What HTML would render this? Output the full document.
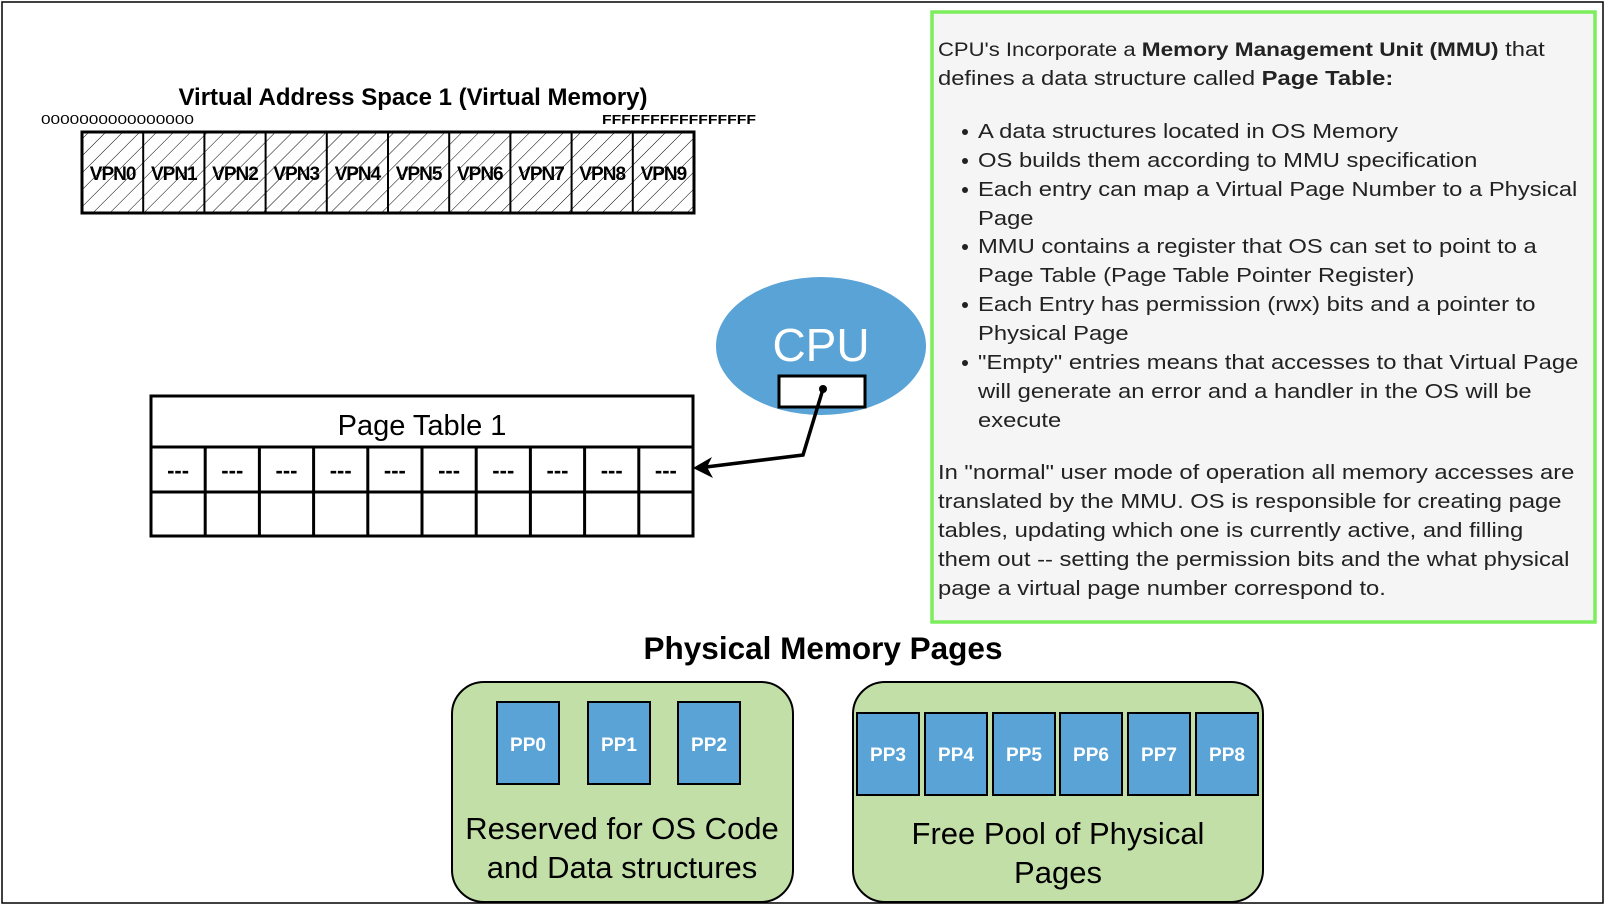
<!DOCTYPE html>
<html><head><meta charset="utf-8"><style>
html,body{margin:0;padding:0;background:#fff;}
svg{display:block;}
text{font-family:"Liberation Sans",Arial,sans-serif;}
</style></head><body>
<svg width="1606" height="906" viewBox="0 0 1606 906" xmlns="http://www.w3.org/2000/svg">
<defs>
<pattern id="hatch" patternUnits="userSpaceOnUse" width="12" height="12" patternTransform="rotate(45)">
<line x1="0" y1="0" x2="0" y2="12" stroke="#000" stroke-width="1"/>
</pattern>
</defs>
<rect x="2" y="2" width="1601" height="901" fill="#fff" stroke="#000" stroke-width="1.5"/>

<text x="413" y="105" text-anchor="middle" font-size="24" font-weight="bold">Virtual Address Space 1 (Virtual Memory)</text>
<text x="41" y="124" font-size="12.5" textLength="153" lengthAdjust="spacingAndGlyphs">0000000000000000</text>
<text x="602" y="124" font-size="12.5" font-weight="bold" font-family="Liberation Serif,serif" textLength="154" lengthAdjust="spacingAndGlyphs">FFFFFFFFFFFFFFFF</text>

<rect x="82" y="132" width="612" height="81" fill="url(#hatch)" stroke="#000" stroke-width="3"/>
<g stroke="#000" stroke-width="2">
<line x1="143.2" y1="132" x2="143.2" y2="213"/><line x1="204.4" y1="132" x2="204.4" y2="213"/>
<line x1="265.6" y1="132" x2="265.6" y2="213"/><line x1="326.8" y1="132" x2="326.8" y2="213"/>
<line x1="388" y1="132" x2="388" y2="213"/><line x1="449.2" y1="132" x2="449.2" y2="213"/>
<line x1="510.4" y1="132" x2="510.4" y2="213"/><line x1="571.6" y1="132" x2="571.6" y2="213"/>
<line x1="632.8" y1="132" x2="632.8" y2="213"/>
</g>
<g font-size="19" font-weight="bold" text-anchor="middle" letter-spacing="-1">
<text x="112.6" y="180">VPN0</text><text x="173.8" y="180">VPN1</text><text x="235" y="180">VPN2</text>
<text x="296.2" y="180">VPN3</text><text x="357.4" y="180">VPN4</text><text x="418.6" y="180">VPN5</text>
<text x="479.8" y="180">VPN6</text><text x="541" y="180">VPN7</text><text x="602.2" y="180">VPN8</text>
<text x="663.4" y="180">VPN9</text>
</g>

<!-- Page table -->
<rect x="151" y="396" width="542" height="140" fill="#fff" stroke="#000" stroke-width="3"/>
<line x1="151" y1="447" x2="693" y2="447" stroke="#000" stroke-width="3"/>
<line x1="151" y1="492" x2="693" y2="492" stroke="#000" stroke-width="3"/>
<g stroke="#000" stroke-width="3">
<line x1="205.2" y1="447" x2="205.2" y2="536"/><line x1="259.4" y1="447" x2="259.4" y2="536"/>
<line x1="313.6" y1="447" x2="313.6" y2="536"/><line x1="367.8" y1="447" x2="367.8" y2="536"/>
<line x1="422" y1="447" x2="422" y2="536"/><line x1="476.2" y1="447" x2="476.2" y2="536"/>
<line x1="530.4" y1="447" x2="530.4" y2="536"/><line x1="584.6" y1="447" x2="584.6" y2="536"/>
<line x1="638.8" y1="447" x2="638.8" y2="536"/>
</g>
<text x="422" y="435" text-anchor="middle" font-size="29">Page Table 1</text>
<g font-size="22" font-weight="bold" text-anchor="middle">
<text x="178.1" y="478">---</text><text x="232.3" y="478">---</text><text x="286.5" y="478">---</text>
<text x="340.7" y="478">---</text><text x="394.9" y="478">---</text><text x="449.1" y="478">---</text>
<text x="503.3" y="478">---</text><text x="557.5" y="478">---</text><text x="611.7" y="478">---</text>
<text x="665.9" y="478">---</text>
</g>

<!-- CPU -->
<ellipse cx="821" cy="346" rx="105" ry="69" fill="#59a3d6"/>
<text x="821" y="361" text-anchor="middle" font-size="46" fill="#fff">CPU</text>
<rect x="779" y="376" width="86" height="31" fill="#fff" stroke="#000" stroke-width="3"/>
<circle cx="823" cy="389" r="4" fill="#000"/>
<polyline points="823,389 803,455 706,467" fill="none" stroke="#000" stroke-width="3.5"/>
<polygon points="693,468 712,457 707,467 713,478" fill="#000"/>

<!-- Info box -->
<rect x="932" y="12" width="663" height="610" fill="#f5f5f5" stroke="#7ced5b" stroke-width="3.5"/>
<g font-size="20.5" fill="#222" transform="translate(938,0) scale(1.16,1) translate(-938,0)">
<text x="938" y="56"><tspan font-size="19">CPU's  Incorporate a </tspan><tspan font-weight="bold" font-size="19.5">Memory Management Unit (MMU)</tspan> that</text>
<text x="938" y="85">defines a data structure called <tspan font-weight="bold">Page Table:</tspan></text>
<text x="972.5" y="138">A data structures located in OS Memory</text>
<text x="972.5" y="167">OS builds them according to MMU specification</text>
<text x="972.5" y="196">Each entry can map a Virtual Page Number to a Physical</text>
<text x="972.5" y="225">Page</text>
<text x="972.5" y="253">MMU contains a register that OS can set to point to a</text>
<text x="972.5" y="282">Page Table (Page Table Pointer Register)</text>
<text x="972.5" y="311">Each Entry has permission (rwx) bits and a pointer to</text>
<text x="972.5" y="340">Physical Page</text>
<text x="972.5" y="369">"Empty" entries means that accesses to that Virtual Page</text>
<text x="972.5" y="398">will generate an error and a handler in the OS will be</text>
<text x="972.5" y="427">execute</text>
<text x="938" y="479">In "normal" user mode of operation all memory accesses are</text>
<text x="938" y="508">translated by the MMU. OS is responsible for creating page</text>
<text x="938" y="537">tables, updating which one is currently active, and filling</text>
<text x="938" y="566">them out -- setting the permission bits and the what physical</text>
<text x="938" y="595">page a virtual page number correspond to.</text>
</g>
<g fill="#222">
<circle cx="965" cy="132" r="3"/><circle cx="965" cy="161" r="3"/><circle cx="965" cy="190" r="3"/>
<circle cx="965" cy="247" r="3"/><circle cx="965" cy="305" r="3"/><circle cx="965" cy="363" r="3"/>
</g>

<!-- Physical memory -->
<text x="823" y="659" text-anchor="middle" font-size="31.5" font-weight="bold">Physical Memory Pages</text>
<rect x="452" y="682" width="341" height="220" rx="32" fill="#c3dfa8" stroke="#000" stroke-width="2"/>
<rect x="853" y="682" width="410" height="220" rx="32" fill="#c3dfa8" stroke="#000" stroke-width="2"/>
<g fill="#59a3d6" stroke="#000" stroke-width="2">
<rect x="497" y="702" width="62" height="82"/><rect x="588" y="702" width="62" height="82"/><rect x="678" y="702" width="62" height="82"/>
<rect x="857" y="713" width="62" height="82"/><rect x="925" y="713" width="62" height="82"/><rect x="993" y="713" width="62" height="82"/>
<rect x="1060" y="713" width="62" height="82"/><rect x="1128" y="713" width="62" height="82"/><rect x="1196" y="713" width="62" height="82"/>
</g>
<g fill="#fff" font-size="19" font-weight="bold" text-anchor="middle">
<text x="528" y="751">PP0</text><text x="619" y="751">PP1</text><text x="709" y="751">PP2</text>
<text x="888" y="761">PP3</text><text x="956" y="761">PP4</text><text x="1024" y="761">PP5</text>
<text x="1091" y="761">PP6</text><text x="1159" y="761">PP7</text><text x="1227" y="761">PP8</text>
</g>
<g font-size="31" text-anchor="middle">
<text x="622" y="839">Reserved for OS Code</text>
<text x="622" y="878">and Data structures</text>
<text x="1058" y="844">Free Pool of Physical</text>
<text x="1058" y="883">Pages</text>
</g>
</svg>
</body></html>
